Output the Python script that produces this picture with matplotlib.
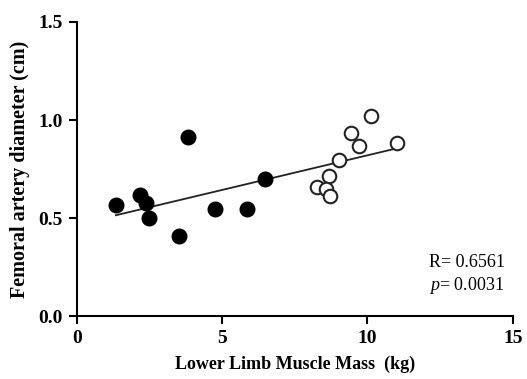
import numpy as np
import matplotlib.pyplot as plt

# filled circles
mass_a = [1.34, 2.17, 2.37, 2.49, 3.81, 3.52, 4.75, 5.86, 6.48]
diam_a = [0.566, 0.617, 0.578, 0.498, 0.915, 0.408, 0.547, 0.547, 0.697]

# open circles
mass_b = [8.27, 8.69, 8.58, 8.72, 9.01, 9.42, 9.71, 10.13, 11.0]
diam_b = [0.657, 0.715, 0.647, 0.614, 0.797, 0.936, 0.870, 1.021, 0.882]

plt.rcParams['font.family'] = ['Liberation Serif', 'DejaVu Serif']
plt.rcParams['mathtext.fontset'] = 'custom'
plt.rcParams['mathtext.rm'] = 'Liberation Serif'
plt.rcParams['mathtext.it'] = 'Liberation Serif:italic'

fig = plt.figure(figsize=(5.27, 3.79), dpi=100)
ax = fig.add_axes([0.146, 0.166, 0.827, 0.776])

# regression over all points
xs = np.array(mass_a + mass_b)
ys = np.array(diam_a + diam_b)
slope, icpt = np.polyfit(xs, ys, 1)
lx = np.array([xs.min(), xs.max()])
ax.plot(lx, slope * lx + icpt, color='#222222', lw=1.3, zorder=2)

ax.scatter(mass_a, diam_a, s=110, color='black', zorder=3)
ax.scatter(mass_b, diam_b, s=95, facecolor='white', edgecolor='#222222',
           linewidths=1.5, zorder=3)

ax.set_xlim(0, 15)
ax.set_ylim(0, 1.5)
ax.set_xticks([0, 5, 10, 15])
ax.set_yticks([0, 0.5, 1.0, 1.5])
ax.set_yticklabels(['0.0', '0.5', '1.0', '1.5'])
for s in ['top', 'right']:
    ax.spines[s].set_visible(False)
for s in ['left', 'bottom']:
    ax.spines[s].set_linewidth(1.5)
ax.tick_params(width=1.5, length=6, labelsize=14, pad=4)
for lbl in ax.get_xticklabels() + ax.get_yticklabels():
    lbl.set_fontweight('bold')

ax.set_xlabel('Lower Limb Muscle Mass  (kg)', fontsize=13, fontweight='bold', labelpad=6)
ax.set_ylabel('Femoral artery diameter (cm)', fontsize=14.5, fontweight='bold', labelpad=6)

ax.text(12.1, 0.25, 'R= 0.6561', fontsize=13)
ax.text(12.1, 0.135, r'$p$= 0.0031', fontsize=13)

fig.savefig('out.png', dpi=100)
